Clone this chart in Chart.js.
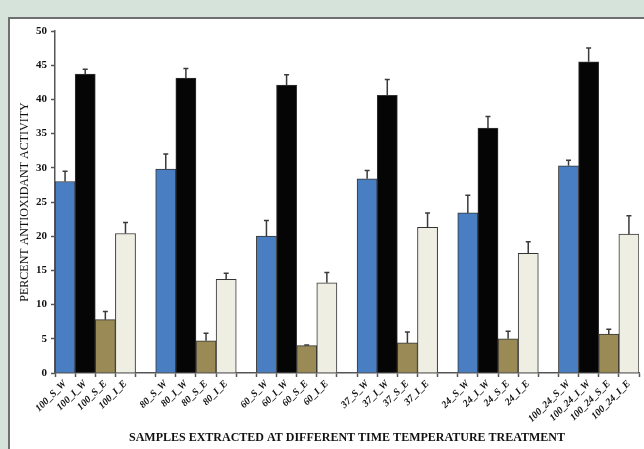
<!DOCTYPE html>
<html>
<head>
<meta charset="utf-8">
<script src="https://cdn.jsdelivr.net/npm/chart.js@4"></script>
<style>
  html, body { margin: 0; padding: 0; background: #d6e3da; width: 644px; height: 449px; overflow: hidden; }
  #panel { position: absolute; left: 8px; top: 17px; width: 640px; height: 440px; background: #fff; border: 2px solid #6f6f6f; box-sizing: border-box; }
  #wrap { position: absolute; left: 0; top: 0; width: 644px; height: 449px; }
</style>
</head>
<body>
<div id="panel"></div>
<div id="wrap"><canvas id="chart" width="644" height="449"></canvas></div>
<script>
// Sample groups (time / temperature treatment) and bar suffixes
const groups = ['100', '80', '60', '37', '24', '100_24'];
const suffixes = ['S_W', 'I_W', 'S_E', 'I_E'];

// Percent antioxidant activity per series
const sW = [28.0, 29.8, 20.0, 28.4, 23.4, 30.3];
const iW = [43.7, 43.1, 42.1, 40.6, 35.8, 45.5];
const sE = [7.8, 4.7, 4.0, 4.4, 5.0, 5.7];
const iE = [20.4, 13.7, 13.2, 21.3, 17.5, 20.3];

// Upper error bar sizes
const sWErr = [1.5, 2.2, 2.3, 1.2, 2.6, 0.8];
const iWErr = [0.7, 1.4, 1.5, 2.3, 1.7, 2.0];
const sEErr = [1.2, 1.1, 0.1, 1.6, 1.1, 0.7];
const iEErr = [1.6, 0.9, 1.5, 2.1, 1.7, 2.7];

const yTicks = [0, 5, 10, 15, 20, 25, 30, 35, 40, 45, 50];

const seriesColors = ['#4a7ec2', '#050505', '#9a8b56', '#eeeee2'];

// flatten into one category axis, with an empty slot between groups
const labels = [], values = [], errors = [], colors = [];
const series = [sW, iW, sE, iE];
const seriesErr = [sWErr, iWErr, sEErr, iEErr];
groups.forEach((g, gi) => {
  if (gi > 0) { labels.push(''); values.push(null); errors.push(null); colors.push('transparent'); }
  suffixes.forEach((sfx, si) => {
    labels.push(g + '_' + sfx);
    values.push(series[si][gi]);
    errors.push(seriesErr[si][gi]);
    colors.push(seriesColors[si]);
  });
});

const errorBars = {
  id: 'errorBars',
  afterDatasetsDraw(chart) {
    const ctx = chart.ctx;
    const meta = chart.getDatasetMeta(0);
    const y = chart.scales.y;
    ctx.save();
    ctx.strokeStyle = '#3a3a3a';
    ctx.lineWidth = 1.5;
    meta.data.forEach((bar, i) => {
      if (values[i] == null) return;
      const top = y.getPixelForValue(values[i] + errors[i]);
      ctx.beginPath();
      ctx.moveTo(bar.x, bar.y);
      ctx.lineTo(bar.x, top);
      ctx.moveTo(bar.x - 2.5, top);
      ctx.lineTo(bar.x + 2.5, top);
      ctx.stroke();
    });
    ctx.restore();
  }
};

new Chart(document.getElementById('chart'), {
  type: 'bar',
  data: {
    labels: labels,
    datasets: [{
      data: values,
      backgroundColor: colors,
      borderColor: '#333',
      borderWidth: 1,
      barPercentage: 1,
      categoryPercentage: 1,
    }],
  },
  options: {
    responsive: false, animation: false,
    layout: { padding: { left: 18, right: 5, top: 31, bottom: 4 } },
    plugins: { legend: { display: false }, tooltip: { enabled: false } },
    scales: {
      x: {
        afterFit: s => { s.height = 72; },
        border: { color: '#555', width: 1.5 },
        grid: { offset: true, drawOnChartArea: false, tickLength: 4, color: '#555', tickWidth: 1.5 },
        ticks: {
          autoSkip: false, minRotation: 45, maxRotation: 45, padding: 1,
          color: '#111', font: { family: 'Liberation Serif', size: 10, weight: 'bold', style: 'italic' },
        },
        title: {
          display: true, text: 'SAMPLES EXTRACTED AT DIFFERENT TIME TEMPERATURE TREATMENT',
          color: '#111', font: { family: 'Liberation Serif', size: 12, weight: 'bold' }, padding: { top: 0, bottom: 0 },
        },
      },
      y: {
        min: 0, max: 50,
        afterFit: s => { s.width = 37; },
        afterBuildTicks: s => { s.ticks = yTicks.map(v => ({ value: v })); },
        border: { color: '#555', width: 1.5 },
        grid: { drawOnChartArea: false, tickLength: 4, color: '#555', tickWidth: 1.5 },
        ticks: { color: '#111', padding: 4, font: { family: 'Liberation Serif', size: 11, weight: 'bold' } },
        title: {
          display: true, text: 'PERCENT ANTIOXIDANT ACTIVITY',
          color: '#111', font: { family: 'Liberation Serif', size: 12 }, padding: { top: 0, bottom: 0 },
        },
      },
    },
  },
  plugins: [errorBars],
});
</script>
</body>
</html>
